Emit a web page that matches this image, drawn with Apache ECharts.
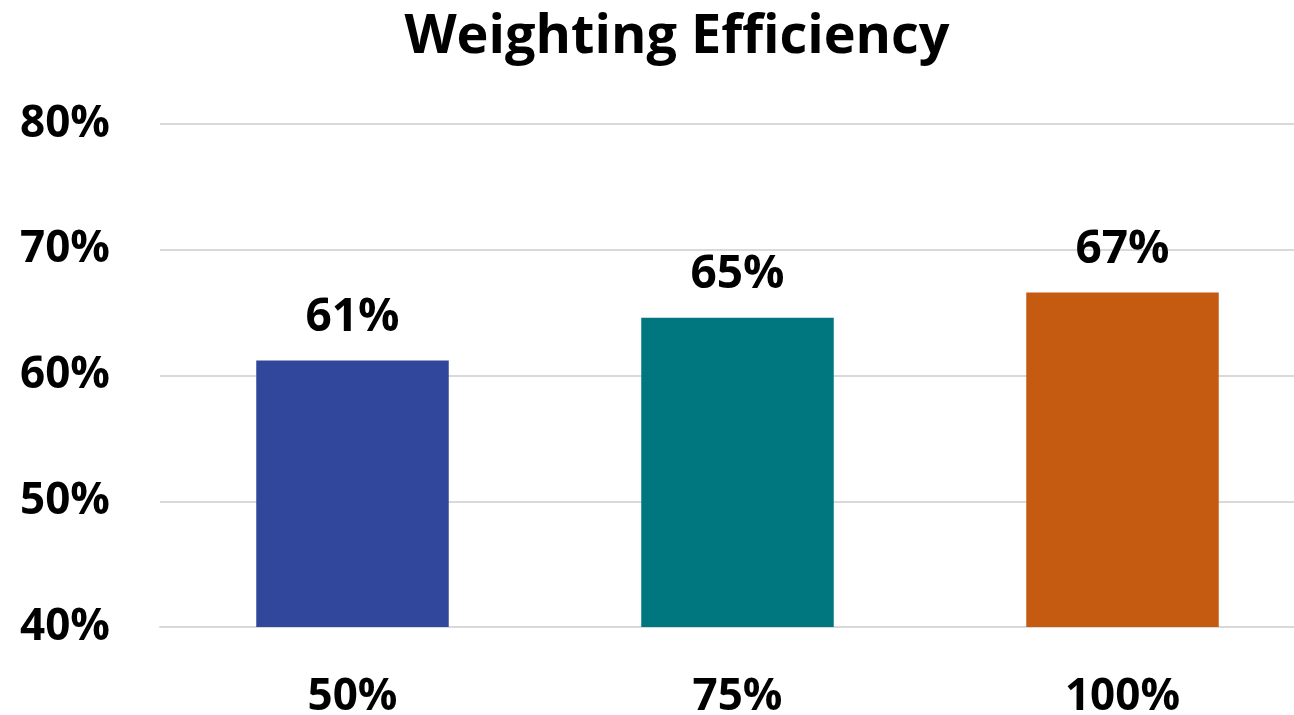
<!DOCTYPE html>
<html>
<head>
<meta charset="utf-8">
<script src="https://cdn.jsdelivr.net/npm/echarts@6/dist/echarts.min.js"></script>
<style>
  html, body { margin: 0; padding: 0; background: #fff; }
  #chart { width: 1294px; height: 715px; }
</style>
</head>
<body>
<div id="chart"></div>
<script>
var categories = ['50%', '75%', '100%']
var values = [61.2, 64.6, 66.6]
var labels = ['61%', '65%', '67%']
var barColors = ['#31479c', '#00777f', '#c55a11']

var font = '"Open Sans", "Liberation Sans", sans-serif'

var chart = echarts.init(document.getElementById('chart'))
chart.setOption({
  animation: false,
  title: {
    text: 'Weighting Efficiency',
    left: 672,
    textAlign: 'center',
    top: 6,
    textStyle: { fontFamily: font, fontWeight: 'bold', fontSize: 54, color: '#000' }
  },
  grid: { left: 160, right: -21, top: 124, bottom: 88, outerBoundsMode: 'none', containLabel: false },
  xAxis: {
    type: 'category',
    data: categories,
    axisLine: { lineStyle: { color: '#d9d9d9', width: 2 } },
    axisTick: { show: false },
    axisLabel: { margin: 48, fontFamily: font, fontWeight: 'bold', fontSize: 44, color: '#000' }
  },
  yAxis: {
    type: 'value',
    min: 40,
    max: 80,
    interval: 10,
    axisLine: { show: false },
    axisTick: { show: false },
    splitLine: { lineStyle: { color: '#d9d9d9', width: 2 } },
    axisLabel: {
      formatter: '{value}%',
      margin: 50,
      fontFamily: font, fontWeight: 'bold', fontSize: 44, color: '#000'
    }
  },
  series: [{
    type: 'bar',
    barWidth: '50%',
    data: values.map(function (v, i) {
      return { value: v, itemStyle: { color: barColors[i] } }
    }),
    label: {
      show: true,
      position: 'top',
      distance: 20,
      formatter: function (p) { return labels[p.dataIndex] },
      fontFamily: font, fontWeight: 'bold', fontSize: 46, color: '#000'
    }
  }]
})
</script>
</body>
</html>
